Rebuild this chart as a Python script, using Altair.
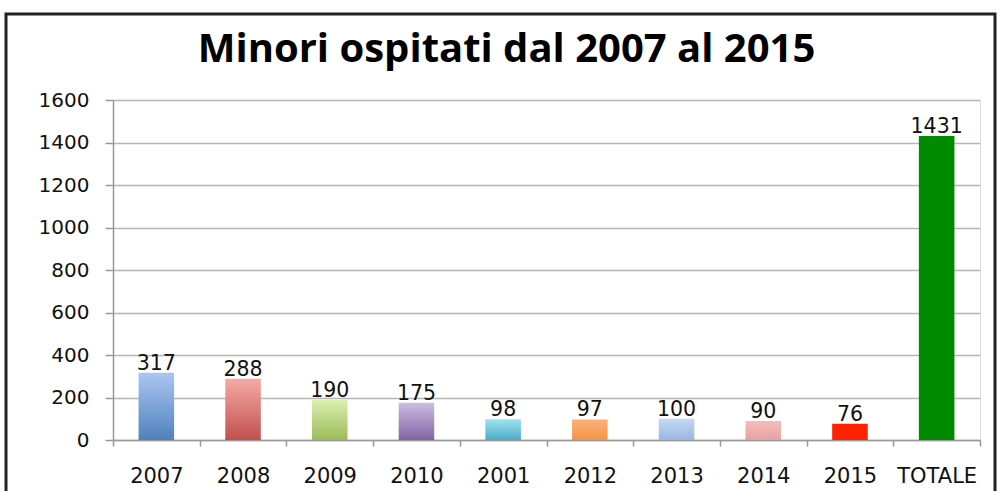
import altair as alt
import pandas as pd

categories = ["2007", "2008", "2009", "2010", "2001", "2012", "2013", "2014", "2015", "TOTALE"]
values = [317, 288, 190, 175, 98, 97, 100, 90, 76, 1431]
top_colors = ["#abc6f2", "#f6aaa6", "#dbf0b0", "#cdbde3", "#a0e2f2", "#fbb27c", "#c4d8f7", "#f7bcbc", "#ff2200", "#008a00"]
bottom_colors = ["#4f81bd", "#c0504d", "#9bbb59", "#8064a2", "#4bacc6", "#f39444", "#9ab6e2", "#e6a2a2", "#ff2200", "#008a00"]
y_ticks = [0, 200, 400, 600, 800, 1000, 1200, 1400, 1600]

df = pd.DataFrame({"cat": categories, "val": values})

FONT = "DejaVu Sans"
xscale = alt.Scale(domain=categories, paddingInner=0, paddingOuter=0)
yscale = alt.Scale(domain=[0, 1600], nice=False)

base = alt.Chart(df)

axis_chart = base.mark_bar(opacity=0).encode(
    x=alt.X("cat:N", scale=xscale, sort=categories, title=None,
            axis=alt.Axis(labelAngle=0, labelFont=FONT, labelFontSize=21, labelColor="#111111",
                          labelPadding=19, tickBand="extent", tickSize=6, tickColor="#999999",
                          tickWidth=1.5, domainColor="#999999", domainWidth=1.5, grid=False)),
    y=alt.Y("val:Q", scale=yscale, title=None,
            axis=alt.Axis(values=y_ticks, format="d", labelFont=FONT, labelFontSize=20, labelColor="#111111",
                          labelPadding=16, tickSize=8, tickColor="#999999", tickWidth=1.5,
                          domainColor="#999999", domainWidth=1.5, gridColor="#b5b5b5", gridWidth=1.5)),
)

layers = [axis_chart]
for c, t, b in zip(categories, top_colors, bottom_colors):
    layers.append(
        base.transform_filter(alt.datum.cat == c).mark_bar(
            width=alt.RelativeBandSize(0.41),
            color=alt.Gradient(gradient="linear", x1=0, x2=0, y1=0, y2=1,
                               stops=[alt.GradientStop(offset=0, color=t),
                                      alt.GradientStop(offset=1, color=b)]),
        ).encode(x=alt.X("cat:N", scale=xscale, sort=categories), y=alt.Y("val:Q", scale=yscale))
    )

labels = base.mark_text(font=FONT, fontSize=20.5, color="#111111", baseline="bottom", dy=1).encode(
    x=alt.X("cat:N", scale=xscale, sort=categories),
    y=alt.Y("val:Q", scale=yscale),
    text="val:Q",
)
layers.append(labels)

frame = alt.Chart(alt.Data(values=[{}])).mark_rect(fill=None, stroke="#222222", strokeWidth=3).encode(
    x=alt.value(-107), x2=alt.value(882), y=alt.value(-86), y2=alt.value(420)
)
layers.append(frame)

chart = alt.layer(*layers).properties(
    width=867,
    height=340,
    title=alt.TitleParams("Minori ospitati dal 2007 al 2015", font="Open Sans", fontSize=40,
                          fontWeight="bold", color="black", anchor="middle", dx=-40, dy=57, offset=0),
    autosize=alt.AutoSizeParams(type="none"),
    padding={"left": 113, "top": 100, "right": 28, "bottom": 51},
).configure_view(stroke=None).configure(background="white")

chart.save("out.html", embed_options={"renderer": "svg", "actions": False})
